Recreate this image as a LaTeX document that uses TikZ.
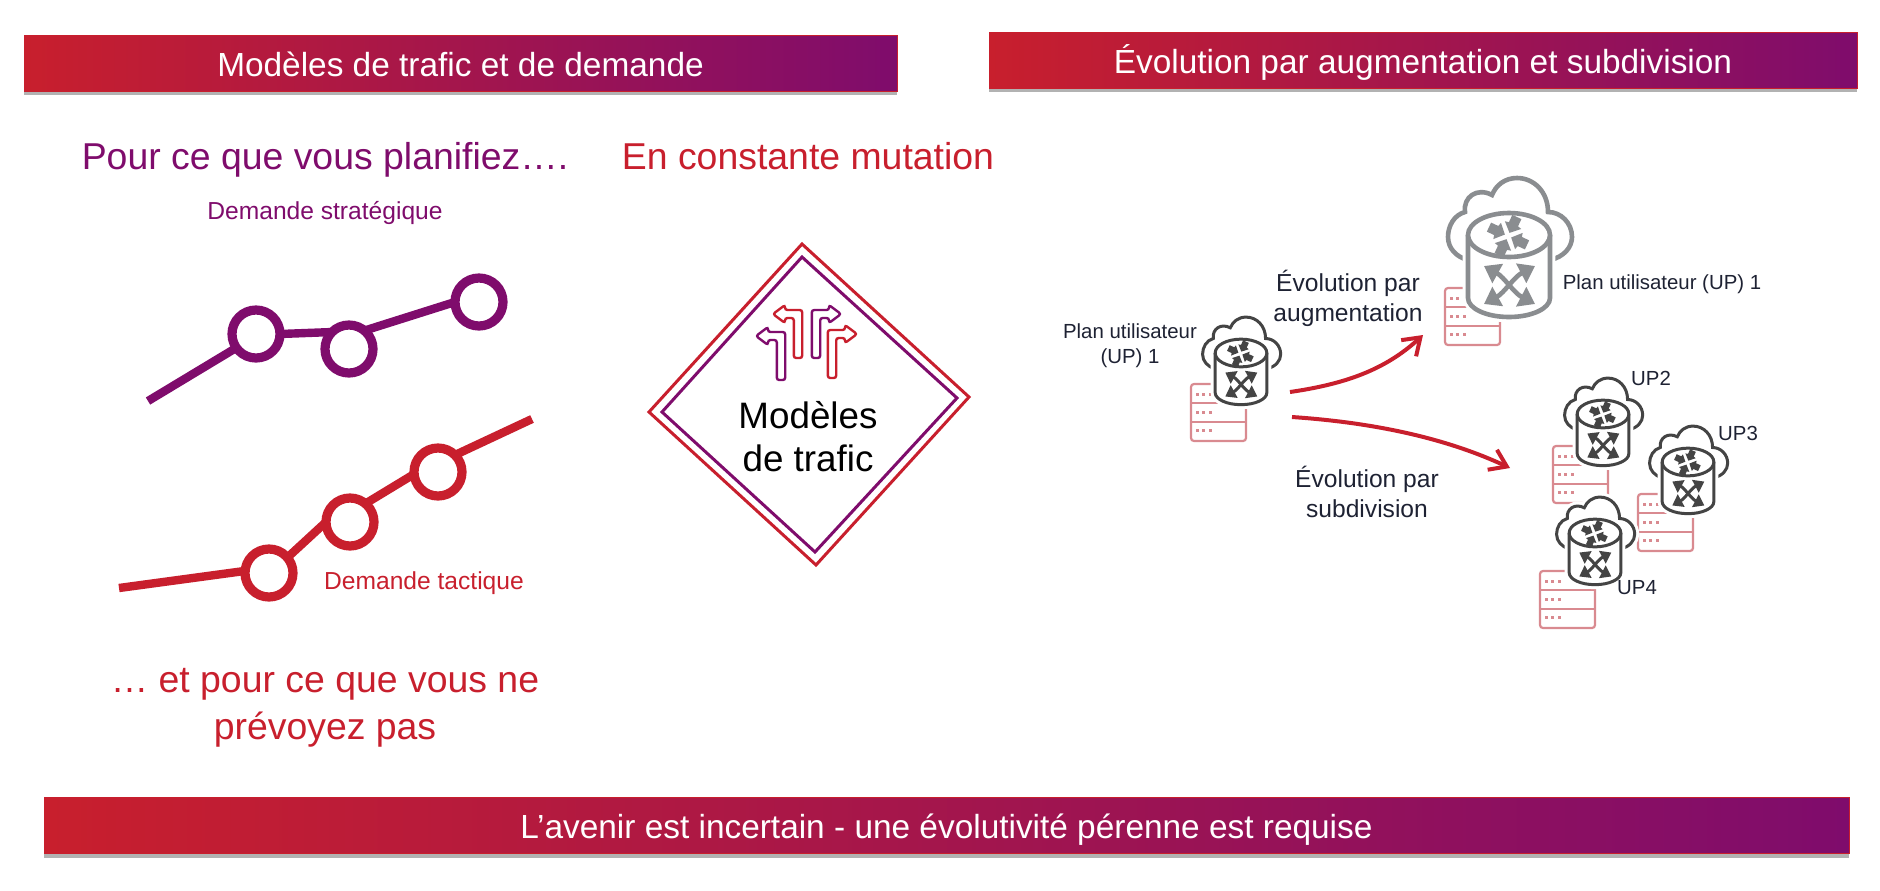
\documentclass[tikz,border=0pt]{standalone}
\usepackage{fontspec}
\setmainfont{Liberation Sans}
\usepackage{xcolor}
\usetikzlibrary{arrows.meta, shadows}
\definecolor{trafred}{HTML}{C81F2D}
\definecolor{trafpurple}{HTML}{7F0C6C}
\definecolor{serverpink}{HTML}{D98A90}
\definecolor{darktext}{HTML}{1E2233}
\definecolor{icongrey}{HTML}{8A8D90}
\definecolor{icondark}{HTML}{444444}
\tikzset{
  banner/.style={rectangle, draw=trafred, line width=0.4pt, left color=trafred, right color=trafpurple,
                 minimum width=#1, minimum height=28pt, inner sep=0pt, text=white,
                 text height=13.4pt, text depth=0pt,
                 font=\fontsize{16.7}{20}\selectfont,
                 drop shadow={shadow xshift=0pt, shadow yshift=-2pt, opacity=0.3, fill=black}},
  headline/.style={align=center, inner sep=0pt, font=\fontsize{18.7}{23.5}\selectfont},
  demand/.style={inner sep=0pt, font=\fontsize{12.3}{15}\selectfont},
  caption/.style={align=center, inner sep=0pt, text=darktext, font=\fontsize{12.3}{15}\selectfont},
  uplabel/.style={align=center, inner sep=0pt, text=darktext, font=\fontsize{10.2}{12.5}\selectfont},
  dot/.style={circle, draw=#1, line width=4.6pt, fill=white, minimum size=24pt, inner sep=0pt, outer sep=0pt},
  trend/.style={draw=#1, line width=4.2pt},
  bigarrow/.style={draw=trafred, line width=2pt, -{Straight Barb[length=8pt, width=11pt, line width=2pt]}},
  roadarrow/.style={draw=#1, line width=1.2pt, fill=white, rounded corners=1.2pt},
  pics/upserver/.style={code={
    \draw[serverpink, line width=1.1pt, rounded corners=1.5pt, fill=white] (0,0) rectangle (55,57);
    \draw[serverpink, line width=1.1pt] (0,19) -- (55,19) (0,38) -- (55,38);
    \foreach \rowy in {10,28.5,46.5}
      \foreach \dotx in {6,12.5,19}
        \fill[serverpink] (\dotx-1.5,\rowy-1.5) rectangle (\dotx+1.5,\rowy+1.5);
  }},
  pics/upcloud/.style n args={2}{code={
    % cloud with white halo, then the drum
    \def\cloudpath{(41,25) .. controls (55,22) and (63,12) .. (63,2) .. controls (63,-12) and (52,-23) .. (39,-23)
      .. controls (39,-43) and (25,-57) .. (8,-57) .. controls (-4,-57) and (-13,-50) .. (-17,-40)
      .. controls (-32,-48) and (-46,-38) .. (-44,-23) .. controls (-55,-20) and (-61,-9) .. (-61,2)
      .. controls (-61,13) and (-53,22) .. (-41,25)}
    \draw[white, line width=#2+3pt, fill=white] \cloudpath;
    \draw[#1, line width=#2] \cloudpath;
    \draw[white, line width=#2+3pt, fill=white] (-41,0) -- (-41,63) arc[start angle=180, end angle=0, x radius=41, y radius=19] -- (41,0) -- cycle;
    \draw[#1, line width=#2, fill=white] (-41,0) -- (-41,63) arc[start angle=180, end angle=0, x radius=41, y radius=19] -- (41,0);
    \draw[#1, line width=#2, fill=white] (0,0) ellipse[x radius=41, y radius=22];
    \foreach \turn in {65,155,245,335}
      \fill[#1, rotate around={\turn:(-1,1)}, shift={(-1,1)}]
        (3.5,0) -- (12,-9) -- (13,-5) -- (21,-5) -- (21,5) -- (13,5) -- (12,9) -- cycle;
    \draw[#1, line width=#2, {Triangle[length=3.4*#2, width=4.6*#2]}-{Triangle[length=3.4*#2, width=4.6*#2]}]
      (-25,31) .. controls (-5,42) and (5,58) .. (26,69);
    \draw[#1, line width=#2, {Triangle[length=3.4*#2, width=4.6*#2]}-{Triangle[length=3.4*#2, width=4.6*#2]}]
      (26,31) .. controls (5,42) and (-5,58) .. (-25,69);
  }},
}

\begin{document}
\begin{tikzpicture}[x=0.5pt, y=-0.5pt]
\useasboundingbox (0,0) rectangle (1880,890);

% ── Banners ───────────────────────────────────────────────────────────────────
\node[banner=436.5pt] (modelbar) at (460.5,63) {Modèles de trafic et de demande};
\node[banner=434pt] (evolbar) at (1423,60) {Évolution par augmentation et subdivision};
\node[banner=902.5pt] (futurebar) at (946.5,825.5) {L’avenir est incertain - une évolutivité pérenne est requise};

% ── Left column: demand curves ────────────────────────────────────────────────
\node[headline, text=trafpurple] (planned) at (325,160) {Pour ce que vous planifiez….};
\node[demand, text=trafpurple] (stratlabel) at (325,212.5) {Demande stratégique};

\coordinate (stratstart) at (148,401);
\node[dot=trafpurple] (s1) at (256,334) {};
\node[dot=trafpurple] (s2) at (349,349) {};
\node[dot=trafpurple] (s3) at (479,302) {};
\draw[trend=trafpurple] (stratstart) -- (s1.215);
\draw[trend=trafpurple] (s1.0) -- (s2.135);
\draw[trend=trafpurple] (s2.50) -- (s3.180);

\coordinate (tactstart) at (119,588);
\coordinate (tactend) at (532,419);
\node[dot=trafred] (t1) at (269,573) {};
\node[dot=trafred] (t2) at (350,522) {};
\node[dot=trafred] (t3) at (438,472) {};
\draw[trend=trafred] (tactstart) -- (t1.175);
\draw[trend=trafred] (t1.40) -- (t2.180);
\draw[trend=trafred] (t2.50) -- (t3.185);
\draw[trend=trafred] (t3.45) -- (tactend);
\node[demand, text=trafred] (tactlabel) at (424,583) {Demande tactique};

\node[headline, text=trafred] (unplanned) at (325,708)
  {… et pour ce que vous ne\\prévoyez pas};

% ── Middle: traffic sign ──────────────────────────────────────────────────────
\node[headline, text=trafred] (mutation) at (808,156) {En constante mutation};

\draw[trafred, line width=1.5pt] (802,244) -- (969,397) -- (816,565) -- (649,412) -- cycle;
\draw[trafpurple, line width=1.5pt] (802,257) -- (957,398) -- (815,552) -- (662,412) -- cycle;

\foreach \basex/\basey/\flip/\col in {798/358/-1/trafred, 781/380/-1/trafpurple,
                                      816/358/1/trafpurple, 832/378/1/trafred}
  \draw[roadarrow=\col, shift={(\basex,\basey)}, xscale=\flip]
    (-4.2,0) -- (-4.2,-48) -- (13,-48) -- (13,-53) -- (25,-44) -- (13,-35)
    -- (13,-40) -- (4.2,-40) -- (4.2,0) -- cycle;

\node[align=center, inner sep=0pt, font=\fontsize{18.4}{21.5}\selectfont] (signtext) at (808,437)
  {Modèles\\de trafic};

% ── Right: user planes ────────────────────────────────────────────────────────
\pic (srv1) at (1191,384) {upserver};
\pic[scale=0.63] (up1) at (1241,353) {upcloud={icondark}{1.5pt}};
\node[uplabel] (up1label) at (1130,346) {Plan utilisateur\\(UP) 1};

\pic (srvbig) at (1445,288) {upserver};
\pic (upbig) at (1509,235) {upcloud={icongrey}{2.3pt}};
\node[uplabel] (upbiglabel) at (1662,284) {Plan utilisateur (UP) 1};

\pic (srv2) at (1553,446) {upserver};
\pic[scale=0.63] (up2) at (1603,414) {upcloud={icondark}{1.5pt}};
\node[uplabel] (up2label) at (1651,378) {UP2};

\pic (srv3) at (1638,494) {upserver};
\pic[scale=0.63] (up3) at (1688,462) {upcloud={icondark}{1.5pt}};
\node[uplabel] (up3label) at (1738,433) {UP3};

\pic (srv4) at (1540,571) {upserver};
\pic[scale=0.63] (up4) at (1595,533) {upcloud={icondark}{1.5pt}};
\node[uplabel] (up4label) at (1637,588) {UP4};

% ── Arrows and their captions ─────────────────────────────────────────────────
\coordinate (augstart) at (1290,392);
\coordinate (augend) at (1423,335);
\coordinate (substart) at (1292,417);
\coordinate (subend) at (1510,468);
\draw[bigarrow] (augstart) .. controls (1345,384) and (1385,370) .. (augend);
\draw[bigarrow] (substart) .. controls (1380,423) and (1450,440) .. (subend);

\node[caption] (augcaption) at (1348,298) {Évolution par\\augmentation};
\node[caption] (subcaption) at (1367,492) {Évolution par\\subdivision};

\end{tikzpicture}
\end{document}
